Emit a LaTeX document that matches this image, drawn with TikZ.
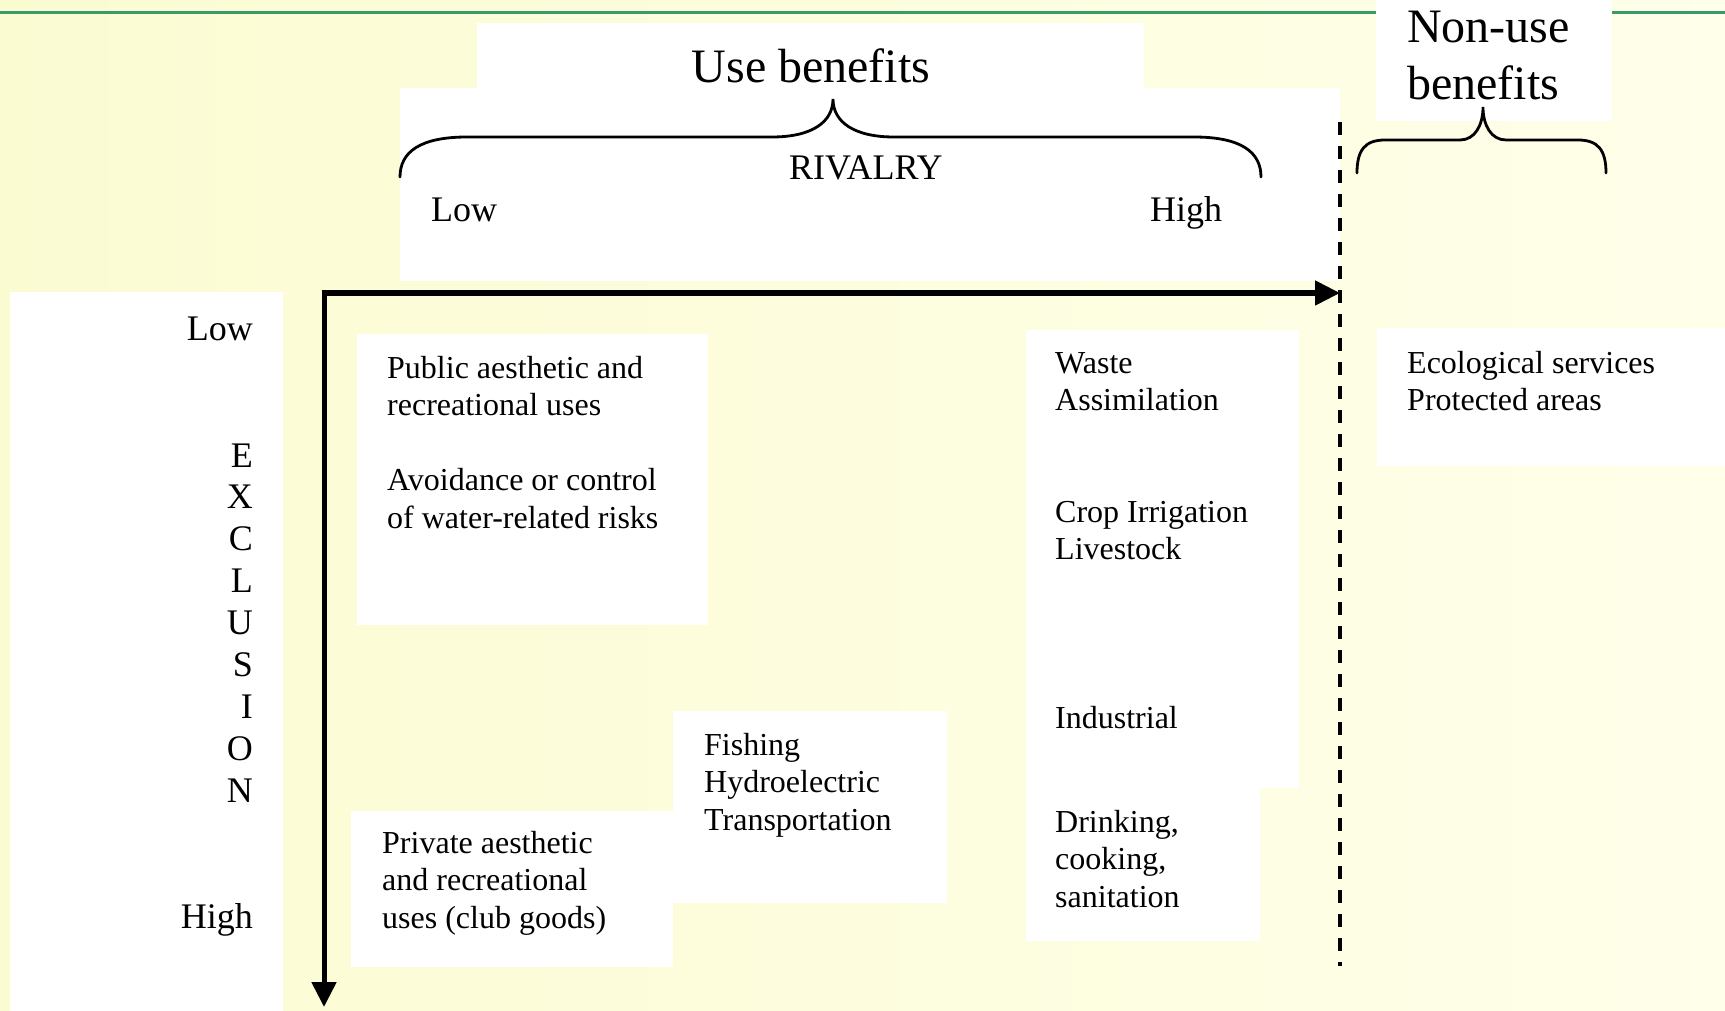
\documentclass[tikz,border=0pt]{standalone}
\usepackage{fontspec}
\setmainfont{Liberation Serif}
\usetikzlibrary{arrows.meta}
\definecolor{bgA}{RGB}{251,251,210}
\definecolor{bgB}{RGB}{255,255,234}
\definecolor{rulegreen}{RGB}{58,155,106}
\newcommand{\txtblock}[2]{\parbox[t]{#1pt}{\raggedright #2}}
\tikzset{
  wbox/.style={fill=white, draw=none, inner sep=0pt, anchor=north west, rectangle},
  body/.style={font=\fontsize{32}{37.5}\selectfont, inner sep=0pt, anchor=base west},
  axlab/.style={font=\fontsize{36}{42}\selectfont, inner sep=0pt},
  bigtitle/.style={font=\fontsize{48}{57}\selectfont, inner sep=0pt},
  axisline/.style={line width=5pt, line join=miter, {Triangle[length=25pt,width=24pt]}-{Triangle[length=25pt,width=24pt]}},
  bracestroke/.style={line width=2.8pt, line cap=round},
  divider/.style={line width=3.5pt, dash pattern=on 13pt off 11pt}
}
\begin{document}
\begin{tikzpicture}[x=1pt,y=-1pt]
\useasboundingbox (0,0) rectangle (1725,1011);
% background
\shade[left color=bgA, right color=bgB] (0,0) rectangle (1725,1011);
\draw[rulegreen, line width=3pt] (0,13) -- (1725,13);
% white boxes
\node[wbox, minimum width=667pt, minimum height=66pt] (titlebox) at (477,23) {};
\node[wbox, minimum width=940pt, minimum height=193pt] (rivbox) at (400,88) {};
\node[wbox, minimum width=236pt, minimum height=121pt] (nonusebox) at (1376,0) {};
\node[wbox, minimum width=273pt, minimum height=719pt] (leftbox) at (10,292) {};
\node[wbox, minimum width=351pt, minimum height=291pt] (pubbox) at (357,334) {};
\node[wbox, minimum width=274pt, minimum height=192pt] (fishbox) at (673,711) {};
\node[wbox, minimum width=322pt, minimum height=156pt] (privbox) at (351,811) {};
\node[wbox, minimum width=273pt, minimum height=458pt] (wastebox) at (1026,330) {};
\node[wbox, minimum width=234pt, minimum height=153pt] (drinkbox) at (1026,788) {};
\node[wbox, minimum width=348pt, minimum height=138pt] (ecobox) at (1377,328) {};
% titles
\node[bigtitle, anchor=base] (usebenefits) at (811,83) {Use benefits};
\node[bigtitle, anchor=base west] (nonuse) at (1407,43) {\parbox[t]{220pt}{\raggedright\fontsize{48}{57}\selectfont Non-use\\benefits}};
% braces
\draw[bracestroke] (400,177) .. controls (400,152) and (420,137) .. (467,137) -- (772,137)
  .. controls (812,137) and (833,122) .. (833,99)
  .. controls (833,122) and (854,137) .. (894,137) -- (1194,137)
  .. controls (1241,137) and (1261,152) .. (1261,177);
\draw[bracestroke] (1357,173) .. controls (1357,150) and (1365,140) .. (1385,140) -- (1460,140)
  .. controls (1475,140) and (1483,125) .. (1483,107)
  .. controls (1483,125) and (1491,140) .. (1506,140) -- (1578,140)
  .. controls (1598,140) and (1606,150) .. (1606,173);
% rivalry labels
\node[axlab, anchor=base west] (rivalry) at (789,180) {RIVALRY};
\node[axlab, anchor=base west] (rivlow) at (431,222) {Low};
\node[axlab, anchor=base west] (rivhigh) at (1150,222) {High};
% exclusion labels
\node[axlab, anchor=base east] (exlow) at (253,340) {Low};
\node[axlab, anchor=base east] (exhigh) at (253,928) {High};
\node[axlab, anchor=base east] (exclusion) at (253,467) {\parbox[t]{40pt}{\raggedleft\fontsize{36}{41.9}\selectfont E\\X\\C\\L\\U\\S\\I\\O\\N}};
% axes
\coordinate (corner) at (324,293);
\coordinate (xend) at (1340,293);
\coordinate (yend) at (324,1007);
\draw[axisline] (yend) -- (corner) -- (xend);
% divider
\coordinate (dtop) at (1340,122);
\coordinate (dbot) at (1340,966);
\draw[divider] (dtop) -- (dbot);
% body texts
\node[body] (pubtxt) at (387,378) {\txtblock{320}{Public aesthetic and\\recreational uses\\[37.5pt]Avoidance or control\\of water-related risks}};
\node[body] (wastetxt) at (1055,373) {\txtblock{240}{Waste\\Assimilation}};
\node[body] (croptxt) at (1055,522) {\txtblock{240}{Crop Irrigation\\Livestock}};
\node[body] (indtxt) at (1055,728) {Industrial};
\node[body] (drinktxt) at (1055,832) {\txtblock{200}{Drinking,\\cooking,\\sanitation}};
\node[body] (fishtxt) at (704,755) {\txtblock{240}{Fishing\\Hydroelectric\\Transportation}};
\node[body] (privtxt) at (382,853) {\txtblock{290}{Private aesthetic\\and recreational\\uses (club goods)}};
\node[body] (ecotxt) at (1407,373) {\txtblock{310}{Ecological services\\Protected areas}};
\end{tikzpicture}
\end{document}
